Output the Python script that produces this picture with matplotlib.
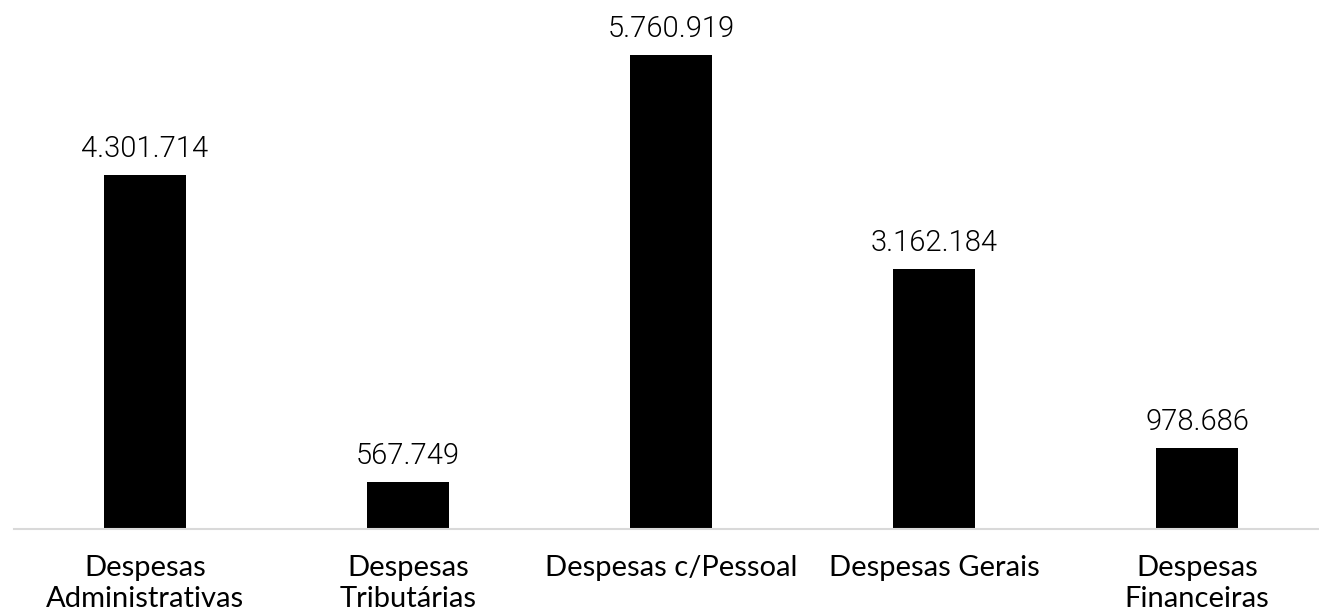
import matplotlib
matplotlib.use("Agg")
import matplotlib.pyplot as plt

categories = ["Despesas\nAdministrativas", "Despesas\nTributárias", "Despesas c/Pessoal",
              "Despesas Gerais", "Despesas\nFinanceiras"]
values = [4301714, 567749, 5760919, 3162184, 978686]

def fmt(v):
    return f"{v:,}".replace(",", ".")

W, H = 1319, 614
fig = plt.figure(figsize=(W / 100, H / 100), dpi=100)
left = 13.5 / W
width = 1315 / W
bottom = 1 - 529 / H
ax = fig.add_axes([left, bottom, width, 529 / H])
x = list(range(len(categories)))
ax.bar(x, values, width=0.31, color="black", zorder=2)
ax.set_xlim(-0.5, len(categories) - 0.5)
ymax = values[2] * 529 / 474
ax.set_ylim(0, ymax)
for s in ["top", "left", "right"]:
    ax.spines[s].set_visible(False)
ax.spines["bottom"].set_color("#d9d9d9")
ax.spines["bottom"].set_linewidth(1.5)
ax.set_yticks([])
ax.set_xticks([])
px = 72 / 100  # points per pixel
for xi, v in zip(x, values):
    ax.annotate(fmt(v), (xi, v), xytext=(0, 18 * px), textcoords="offset points",
                ha="center", va="baseline", fontsize=21, family="Roboto", fontweight=300,
                color="black")
for xi, c in zip(x, categories):
    lines = c.split("\n")
    for i, line in enumerate(lines):
        ax.annotate(line, (xi, 0), xytext=(0, -(47 + 31 * i) * px), textcoords="offset points",
                    ha="center", va="baseline", fontsize=21, family="Lato", color="black")
fig.savefig("out.png", dpi=100)
